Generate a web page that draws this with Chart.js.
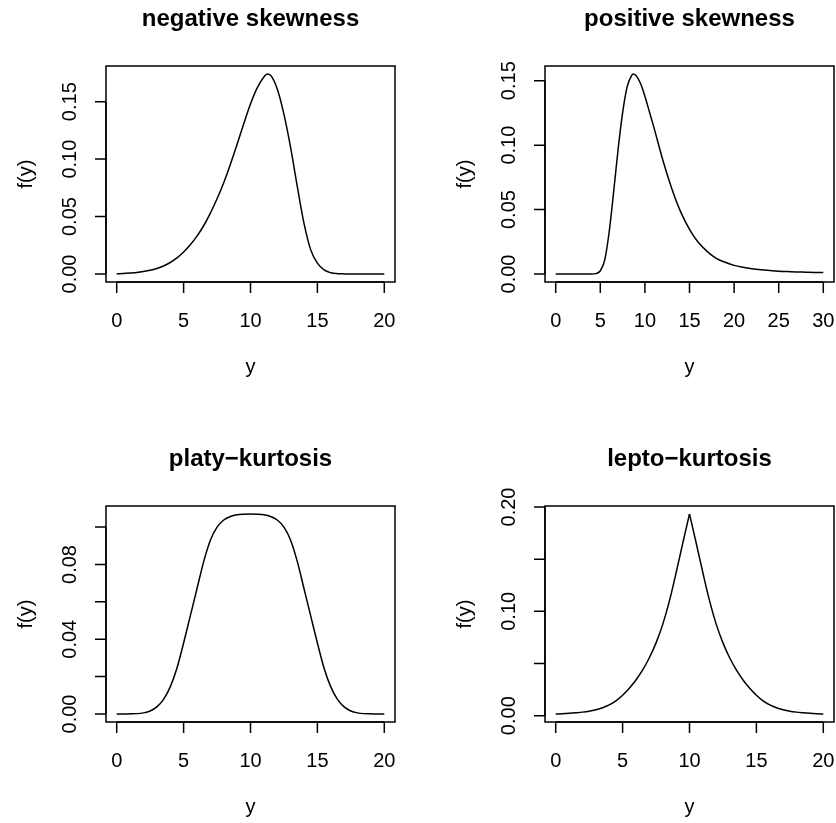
<!DOCTYPE html>
<html>
<head>
<meta charset="utf-8">
<title>Skewness and kurtosis</title>
<script src="https://cdn.jsdelivr.net/npm/chart.js@4"></script>
<style>
  html, body { margin: 0; padding: 0; background: #fff; }
  #page { position: relative; width: 836px; height: 823px; overflow: hidden; background: #fff; }
  #page canvas { position: absolute; }
</style>
</head>
<body>
<div id="page">
  <canvas id="neg" width="439" height="440" style="left:0;top:0"></canvas>
  <canvas id="pos" width="439" height="440" style="left:439px;top:0"></canvas>
  <canvas id="platy" width="439" height="440" style="left:0;top:440px"></canvas>
  <canvas id="lepto" width="439" height="440" style="left:439px;top:440px"></canvas>
</div>
<script>
// negative skewness
const negX = [0, 0.5, 1, 1.5, 2, 2.5, 3, 3.5, 4, 4.5, 5, 5.5, 6, 6.5, 7, 7.5, 8, 8.5, 9, 9.5,
  10, 10.5, 11, 11.25, 11.5, 12, 12.5, 13, 13.5, 14, 14.5, 15, 15.5, 16, 16.5, 17, 18, 19, 20];
const negY = [0.0002, 0.0004, 0.0008, 0.0013, 0.0021, 0.0032, 0.0048, 0.0070, 0.0100, 0.0140,
  0.0192, 0.0255, 0.0330, 0.0420, 0.0530, 0.0655, 0.0795, 0.0955, 0.1130, 0.1310,
  0.1480, 0.1620, 0.1715, 0.1741, 0.1730, 0.1610, 0.1390, 0.1100, 0.0760, 0.0440,
  0.0210, 0.0095, 0.0035, 0.0011, 0.0003, 0.0001, 0, 0, 0];
const negXTicks = [0, 5, 10, 15, 20];
const negYTicks = [0, 0.05, 0.10, 0.15];

// positive skewness
const posX = [0, 2, 4, 4.5, 5, 5.5, 6, 6.5, 7, 7.5, 8, 8.5, 8.7, 9, 9.5, 10, 10.5, 11, 12, 13,
  14, 15, 16, 17, 18, 19, 20, 21, 22, 23, 24, 25, 26, 27, 28, 29, 30];
const posY = [0, 0, 0, 0.0003, 0.0025, 0.0110, 0.0330, 0.0640, 0.0970, 0.1250,
  0.1450, 0.1540, 0.1552, 0.1540, 0.1480, 0.1380, 0.1260, 0.1140, 0.0886, 0.0666,
  0.0484, 0.0347, 0.0244, 0.0174, 0.0122, 0.0091, 0.0067, 0.0052, 0.0041, 0.0033,
  0.0027, 0.0022, 0.0019, 0.0016, 0.0014, 0.0012, 0.0011];
const posXTicks = [0, 5, 10, 15, 20, 25, 30];
const posYTicks = [0, 0.05, 0.10, 0.15];

// platy-kurtosis
const platyX = [0, 0.5, 1, 1.5, 2, 2.5, 3, 3.5, 4, 4.5, 5, 5.5, 6, 6.5, 7, 7.5, 8, 8.5, 9, 9.5,
  10, 10.5, 11, 11.5, 12, 12.5, 13, 13.5, 14, 14.5, 15, 15.5, 16, 16.5, 17, 17.5, 18, 18.5, 19, 19.5, 20];
const platyY = [0, 0, 0.0001, 0.0002, 0.0006, 0.0016, 0.0038, 0.0078, 0.0145, 0.0245,
  0.0380, 0.0525, 0.0670, 0.0815, 0.0930, 0.1000, 0.1038, 0.1057, 0.1066, 0.1069,
  0.1070, 0.1069, 0.1066, 0.1057, 0.1038, 0.1000, 0.0930, 0.0815, 0.0670, 0.0525,
  0.0380, 0.0245, 0.0145, 0.0078, 0.0038, 0.0016, 0.0006, 0.0002, 0.0001, 0, 0];
const platyXTicks = [0, 5, 10, 15, 20];
const platyYTicks = [0, 0.02, 0.04, 0.06, 0.08, 0.10];
const platyYLabels = [0, 0.04, 0.08];

// lepto-kurtosis
const leptoX = [0, 0.5, 1, 1.5, 2, 2.5, 3, 3.5, 4, 4.5, 5, 5.5, 6, 6.5, 7, 7.5, 8, 8.5, 9, 9.5,
  10, 10.5, 11, 11.5, 12, 12.5, 13, 13.5, 14, 14.5, 15, 15.5, 16, 16.5, 17, 17.5, 18, 18.5, 19, 19.5, 20];
const leptoY = [0.0016, 0.0019, 0.0023, 0.0028, 0.0034, 0.0043, 0.0057, 0.0076, 0.0103, 0.0142,
  0.0196, 0.0263, 0.0342, 0.0438, 0.0555, 0.0698, 0.0875, 0.1100, 0.1370, 0.1655,
  0.1933, 0.1655, 0.1370, 0.1100, 0.0875, 0.0698, 0.0555, 0.0438, 0.0342, 0.0263,
  0.0196, 0.0142, 0.0103, 0.0076, 0.0057, 0.0043, 0.0034, 0.0028, 0.0023, 0.0019, 0.0016];
const leptoXTicks = [0, 5, 10, 15, 20];
const leptoYTicks = [0, 0.05, 0.10, 0.15, 0.20];
const leptoYLabels = [0, 0.10, 0.20];

const FONT = "'Liberation Sans', Arial, Helvetica, sans-serif";

// R-style limits: data range stretched by 4% on each side
function rLimits(vals) {
  const lo = Math.min(...vals);
  const hi = Math.max(...vals);
  const d = (hi - lo) * 0.04;
  return [lo - d, hi + d];
}

// base-graphics look: box, outward ticks, rotated y labels, titles
const rAxes = {
  id: 'rAxes',
  afterDraw(chart, args, opts) {
    const { ctx, chartArea: a, scales: { x, y } } = chart;
    ctx.save();
    ctx.strokeStyle = '#000';
    ctx.fillStyle = '#000';
    ctx.lineWidth = 1.5;
    ctx.strokeRect(a.left, a.top, a.right - a.left, a.bottom - a.top);

    const tick = 11;
    // x axis
    const xs = opts.xTicks.map((v) => x.getPixelForValue(v));
    ctx.beginPath();
    ctx.moveTo(xs[0], a.bottom);
    ctx.lineTo(xs[xs.length - 1], a.bottom);
    xs.forEach((px) => { ctx.moveTo(px, a.bottom); ctx.lineTo(px, a.bottom + tick); });
    ctx.stroke();
    ctx.font = '20px ' + FONT;
    ctx.textAlign = 'center';
    ctx.textBaseline = 'alphabetic';
    opts.xTicks.forEach((v, i) => ctx.fillText(String(v), xs[i], a.bottom + 45));
    ctx.fillText(opts.xTitle, (a.left + a.right) / 2, a.bottom + 91);

    // y axis
    const ys = opts.yTicks.map((v) => y.getPixelForValue(v));
    ctx.beginPath();
    ctx.moveTo(a.left, ys[0]);
    ctx.lineTo(a.left, ys[ys.length - 1]);
    ys.forEach((py) => { ctx.moveTo(a.left, py); ctx.lineTo(a.left - tick, py); });
    ctx.stroke();
    const shown = opts.yLabels || opts.yTicks;
    shown.forEach((v) => {
      ctx.save();
      ctx.translate(a.left - 30, y.getPixelForValue(v));
      ctx.rotate(-Math.PI / 2);
      ctx.fillText(v.toFixed(2), 0, 0);
      ctx.restore();
    });
    ctx.save();
    ctx.translate(a.left - 74, (a.top + a.bottom) / 2);
    ctx.rotate(-Math.PI / 2);
    ctx.fillText(opts.yTitle, 0, 0);
    ctx.restore();

    // main title
    ctx.font = 'bold 24px ' + FONT;
    ctx.fillText(opts.title, (a.left + a.right) / 2, a.top - 40);
    ctx.restore();
  },
};

function curve(xs, ys) {
  return {
    data: xs.map((v, i) => ({ x: v, y: ys[i] })),
    borderColor: '#000',
    borderWidth: 1.5,
    pointRadius: 0,
    fill: false,
    cubicInterpolationMode: 'monotone',
  };
}

function makePanel(id, title, xs, ys, xTicks, yTicks, yLabels, cusp) {
  const [xMin, xMax] = rLimits(xs);
  const [yMin, yMax] = rLimits(ys);
  let datasets;
  if (cusp) {
    // split at the peak so the point stays sharp
    const k = ys.indexOf(Math.max(...ys));
    datasets = [curve(xs.slice(0, k + 1), ys.slice(0, k + 1)), curve(xs.slice(k), ys.slice(k))];
  } else {
    datasets = [curve(xs, ys)];
  }
  return new Chart(document.getElementById(id), {
    type: 'line',
    data: { datasets },
    options: {
      responsive: false,
      animation: false,
      devicePixelRatio: 1,
      layout: { padding: { left: 106, top: 66, right: 44, bottom: 158 } },
      scales: {
        x: { type: 'linear', display: false, min: xMin, max: xMax },
        y: { type: 'linear', display: false, min: yMin, max: yMax },
      },
      plugins: {
        legend: { display: false },
        tooltip: { enabled: false },
        rAxes: { title, xTitle: 'y', yTitle: 'f(y)', xTicks, yTicks, yLabels },
      },
    },
    plugins: [rAxes],
  });
}

makePanel('neg', 'negative skewness', negX, negY, negXTicks, negYTicks, null, false);
makePanel('pos', 'positive skewness', posX, posY, posXTicks, posYTicks, null, false);
makePanel('platy', 'platy\u2212kurtosis', platyX, platyY, platyXTicks, platyYTicks, platyYLabels, false);
makePanel('lepto', 'lepto\u2212kurtosis', leptoX, leptoY, leptoXTicks, leptoYTicks, leptoYLabels, true);
</script>
</body>
</html>
